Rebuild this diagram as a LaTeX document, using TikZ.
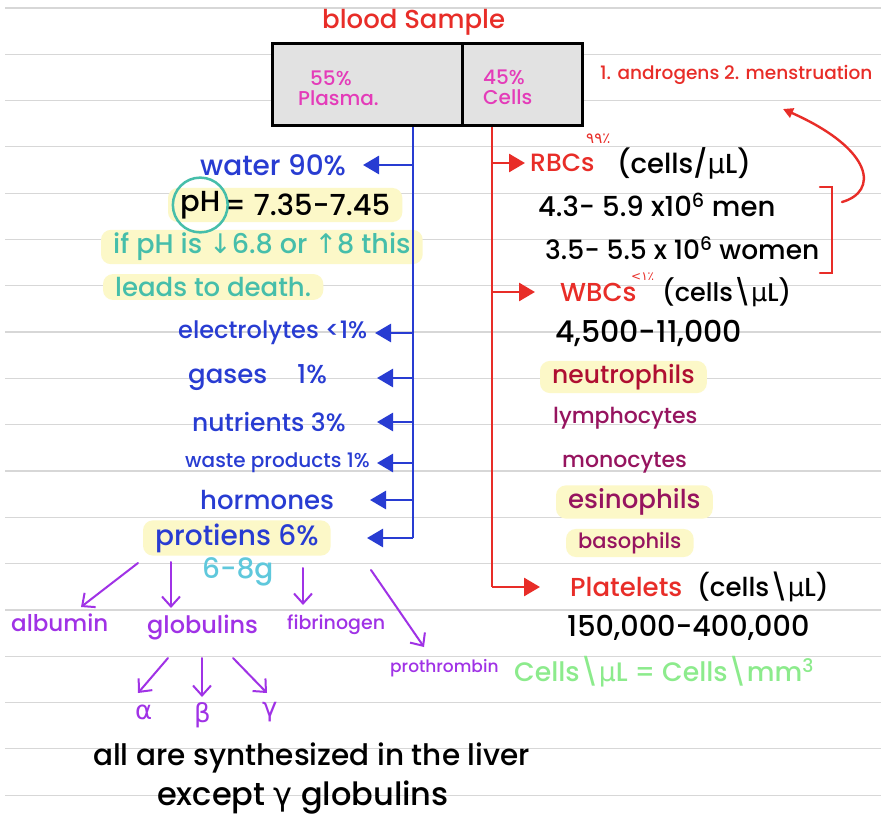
\documentclass[tikz,border=0pt]{standalone}
\usepackage{fontspec}
\setmainfont{Poppins Medium}
\newfontfamily\symfont{DejaVu Sans}
\usetikzlibrary{arrows.meta,positioning,calc,fit,backgrounds}
\definecolor{pblue}{RGB}{40,60,210}
\definecolor{rred}{RGB}{232,45,40}
\definecolor{ppink}{RGB}{228,60,185}
\definecolor{pteal}{RGB}{70,190,170}
\definecolor{pcyan}{RGB}{95,200,220}
\definecolor{ppurp}{RGB}{160,50,230}
\definecolor{pwine}{RGB}{150,20,95}
\definecolor{pneut}{RGB}{175,15,50}
\definecolor{lgreen}{RGB}{140,235,140}
\definecolor{hlyellow}{RGB}{252,248,200}
\definecolor{ruled}{RGB}{215,215,215}
\definecolor{boxgray}{RGB}{226,226,226}
\newcommand\fs[1]{\fontsize{#1}{#1}\selectfont}
\newcommand\mic{{\symfont µ}}
\newcommand\bs{\textbackslash}

\begin{document}
\begin{tikzpicture}[x=1pt,y=-1pt,
  txt/.style={inner sep=0pt, anchor=west},
  cellbox/.style={draw=black, line width=3pt, fill=boxgray, minimum height=82pt},
  hl/.style={fill=hlyellow, rounded corners=10pt, inner xsep=12pt, inner ysep=3pt},
  barr/.style={draw=pblue, line width=2.8pt, -{Triangle[length=16pt,width=18pt]}},
  rarr/.style={draw=rred, line width=2.8pt, -{Triangle[length=16pt,width=18pt]}},
  parr/.style={draw=ppurp, line width=2pt, line cap=round, -{Straight Barb[length=10pt,width=18pt]}},
  rline/.style={draw=rred, line width=2.4pt, line cap=round},
]
\useasboundingbox (0,0) rectangle (881,818);
\begin{scope}[on background layer]
\fill[white] (0,0) rectangle (881,818);
\foreach \k in {0,...,17}
  \draw[ruled, line width=1.2pt] (5,{8+46.3*\k}) -- (881,{8+46.3*\k});
\end{scope}

% sample box
\node[txt, text=rred, font=\fs{26}] (title) at (322,22) {blood Sample};
\node[cellbox, minimum width=190pt] (plasmabox) at (367,85) {};
\node[cellbox, minimum width=120pt] (cellsbox) at (522,85) {};
\node[txt, text=ppink, font=\fs{20}, align=left] (plasmatxt) at (298,88) {\hspace*{12pt}55\%\\Plasma.};
\node[txt, text=ppink, font=\fs{20}, align=left] (cellstxt) at (483,87) {45\%\\Cells};
\node[txt, text=rred, font=\fs{18.5}] (andro) at (600,75) {1. androgens 2. menstruation};

\coordinate (pstem) at ([xshift=46pt]plasmabox.south);
\coordinate (cstem) at ([xshift=-30pt]cellsbox.south);

% plasma side
\node[txt, text=pblue, font=\fs{28}] (water) at (200,165) {water 90\%};
\node[txt, font=\fs{29}] (phl) at (180,205) {pH};
\node[txt, font=\fs{29}, right=3pt of phl] (phv) {= 7.35-7.45};
\node[txt, text=pteal, font=\fs{27}] (ifph) at (113,247) {if pH is {\symfont ↓}6.8 or {\symfont ↑}8 this};
\node[txt, text=pteal, font=\fs{26}] (leads) at (115,287) {leads to death.};
\node[txt, text=pblue, font=\fs{24}] (electro) at (178,333) {electrolytes <1\%};
\node[txt, text=pblue, font=\fs{26}] (gases) at (188,378) {gases\hspace{30pt}1\%};
\node[txt, text=pblue, font=\fs{25}] (nutri) at (192,422) {nutrients 3\%};
\node[txt, text=pblue, font=\fs{20}] (waste) at (185,463) {waste products 1\%};
\node[txt, text=pblue, font=\fs{26}] (hormo) at (200,500) {hormones};
\node[txt, text=pblue, font=\fs{28}] (prot) at (155,538) {protiens 6\%};
\node[draw=pteal, line width=2.5pt, circle, inner sep=2pt, fit=(phl)] (phring) {};

% proteins
\node[txt, text=pcyan, font=\fs{28}] (sixeight) at (202,572) {6-8g};
\node[txt, text=ppurp, font=\fs{23}] (albumin) at (11,623) {albumin};
\node[txt, text=ppurp, font=\fs{24}] (glob) at (147,628) {globulins};
\node[txt, text=ppurp, font=\fs{19}] (fib) at (287,625) {fibrinogen};
\node[txt, text=ppurp, font=\fs{17}] (proth) at (390,668) {prothrombin};
\node[txt, text=ppurp, font={\fs{26}\symfont}] (galpha) at (135,712) {α};
\node[txt, text=ppurp, font={\fs{26}\symfont}] (gbeta) at (194,715) {β};
\node[txt, text=ppurp, font={\fs{26}\symfont}] (ggamma) at (262,712) {γ};
\node[txt, font=\fs{29.5}] (liver) at (93,758) {all are synthesized in the liver};
\node[txt, font=\fs{32}] (except) at (157,798) {except {\symfont γ} globulins};

% cells side
\node[txt, text=rred, font=\fs{25}] (rbc) at (530,163) {RBCs};
\node[txt, text=rred, font={\fs{15}\symfont}] (rbcsup) at (586,139) {٩٩٪};
\node[txt, font=\fs{27.5}] (rbcunit) at (617,163) {(cells/\mic L)};
\node[txt, font=\fs{27.5}] (men) at (538,205) {4.3- 5.9 x10\textsuperscript{6} men};
\node[txt, font=\fs{26.5}] (women) at (545,248) {3.5- 5.5 x 10\textsuperscript{6} women};
\node[txt, text=rred, font=\fs{26}] (wbc) at (560,292) {WBCs};
\node[txt, text=rred, font={\fs{12}\symfont}] (wbcsup) at (631,277) {<١٪};
\node[txt, font=\fs{25.5}] (wbcunit) at (662,292) {(cells\bs\mic L)};
\node[txt, font=\fs{30}] (wbcrange) at (555,333) {4,500-11,000};
\node[txt, text=pneut, font=\fs{25}] (neutro) at (552,377) {neutrophils};
\node[txt, text=pwine, font=\fs{22}] (lympho) at (553,418) {lymphocytes};
\node[txt, text=pwine, font=\fs{22}] (mono) at (562,463) {monocytes};
\node[txt, text=pwine, font=\fs{26}] (esino) at (568,502) {esinophils};
\node[txt, text=pwine, font=\fs{21}] (baso) at (578,543) {basophils};
\node[txt, text=rred, font=\fs{26}] (plt) at (570,587) {Platelets};
\node[txt, font=\fs{26}] (pltunit) at (697,587) {(cells\bs\mic L)};
\node[txt, font=\fs{28.7}] (pltrange) at (567,628) {150,000-400,000};
\node[txt, text=lgreen, font=\fs{26.7}] (conv) at (514,672) {Cells\bs\mic L = Cells\bs mm\textsuperscript{3}};

% highlights
\begin{scope}[on background layer]
\node[hl, fit=(phl)(phv)] {};
\node[hl, fit=(ifph)] {};
\node[hl, fit=(leads)] {};
\node[hl, fit=(prot)] {};
\node[hl, fit=(neutro)] {};
\node[hl, fit=(esino)] {};
\node[hl, fit=(baso)] {};
\end{scope}

% plasma branches
\draw[draw=pblue, line width=2.8pt] (pstem) -- (pstem |- prot);
\draw[barr] (pstem |- water) -- +(-50,0);
\draw[barr] (pstem |- electro) -- +(-38,0);
\draw[barr] (pstem |- gases) -- +(-36,0);
\draw[barr] (pstem |- nutri) -- +(-36,0);
\draw[barr] (pstem |- waste) -- +(-36,0);
\draw[barr] (pstem |- hormo) -- +(-43,0);
\draw[barr] (pstem |- prot) -- +(-46,0);

% cell branches
\draw[draw=rred, line width=2.8pt] (cstem) -- (cstem |- plt);
\draw[rarr] (cstem |- rbc) -- +(33,0);
\draw[rarr] (cstem |- wbc) -- +(43,0);
\draw[rarr] (cstem |- plt) -- +(48,0);

% bracket and note arrow
\coordinate (brtop) at (820,187);
\coordinate (brbot) at (820,273);
\coordinate (cvs) at (842,202);
\coordinate (cve) at (783,109);
\draw[rline] (brtop) -- ++(12,0) |- (brbot);
\draw[rline, -{Triangle[length=10pt,width=10pt]}] (cvs) .. controls (878,192) and (875,150) .. (cve);

% protein arrows
\coordinate (pa0) at (138,563); \coordinate (pa1) at (81,607);
\coordinate (pg0) at (171,562); \coordinate (pg1) at (171,608);
\coordinate (pf0) at (303,568); \coordinate (pf1) at (303,605);
\coordinate (pp0) at (371,570); \coordinate (pp1) at (424,647);
\coordinate (ga0) at (168,658); \coordinate (ga1) at (138,693);
\coordinate (gb0) at (202,658); \coordinate (gb1) at (202,697);
\coordinate (gc0) at (233,658); \coordinate (gc1) at (267,693);
\draw[parr] (pa0) -- (pa1);
\draw[parr] (pg0) -- (pg1);
\draw[parr] (pf0) -- (pf1);
\draw[parr] (pp0) -- (pp1);
\draw[parr] (ga0) -- (ga1);
\draw[parr] (gb0) -- (gb1);
\draw[parr] (gc0) -- (gc1);
\end{tikzpicture}
\end{document}
